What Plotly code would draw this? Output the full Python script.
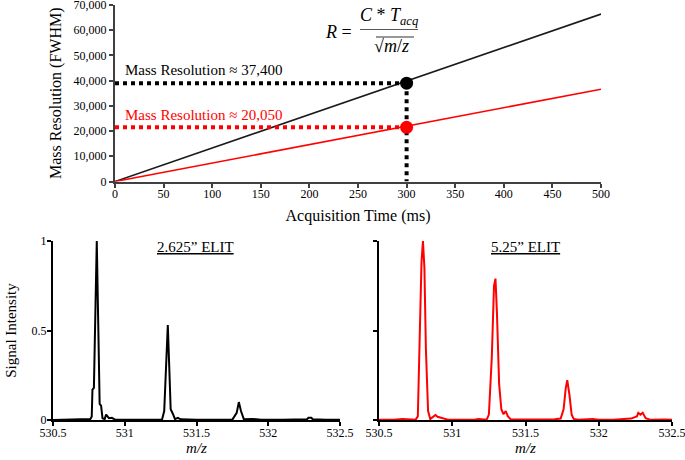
import plotly.graph_objects as go

# ---------------- data ----------------
acq_time = [0, 500]
res_black = [0, 66400]
res_red = [0, 36600]
sel_time = 300
sel_black = 39000
sel_red = 21500
label_black = "Mass Resolution ≈ 37,400"
label_red = "Mass Resolution ≈ 20,050"

top_xticks = [0, 50, 100, 150, 200, 250, 300, 350, 400, 450, 500]
top_yticks = [0, 10000, 20000, 30000, 40000, 50000, 60000, 70000]

mz_ticks = [530.5, 531, 531.5, 532, 532.5]
mz_ticktext = ["530.5", "531", "531.5", "532", "532.5"]
int_ticks = [0, 0.5, 1]
int_ticktext = ["0", "0.5", "1"]

mz_black = [530.50, 530.60, 530.70, 530.76, 530.77, 530.775, 530.785, 530.795, 530.805,
            530.815, 530.825, 530.835, 530.845, 530.86, 530.87, 530.88, 530.89, 530.91,
            530.93, 531.00, 531.10, 531.20, 531.26, 531.275, 531.29, 531.30, 531.31,
            531.32, 531.335, 531.35, 531.37, 531.39, 531.50, 531.60, 531.75, 531.78,
            531.795, 531.81, 531.83, 531.89, 531.95, 532.10, 532.20, 532.27, 532.28,
            532.30, 532.31, 532.40, 532.50]
int_black = [0.000, 0.002, 0.000, 0.005, 0.020, 0.170, 0.180, 0.600, 1.000,
             0.550, 0.090, 0.080, 0.010, 0.005, 0.030, 0.020, 0.010, 0.012,
             0.003, 0.002, 0.002, 0.001, 0.003, 0.050, 0.300, 0.530, 0.300,
             0.060, 0.035, 0.005, 0.012, 0.004, 0.002, 0.001, 0.002, 0.040,
             0.100, 0.050, 0.004, 0.006, 0.001, 0.002, 0.001, 0.004, 0.012,
             0.012, 0.004, 0.001, 0.002]

mz_red = [530.50, 530.60, 530.66, 530.69, 530.71, 530.75, 530.765, 530.78, 530.79,
          530.80, 530.81, 530.82, 530.835, 530.85, 530.87, 530.885, 530.90, 530.93,
          530.95, 530.97, 531.05, 531.15, 531.18, 531.21, 531.235, 531.25, 531.27,
          531.285, 531.295, 531.305, 531.32, 531.335, 531.35, 531.365, 531.38, 531.40,
          531.50, 531.60, 531.70, 531.74, 531.76, 531.775, 531.785, 531.80, 531.815,
          531.83, 531.86, 531.96, 532.00, 532.10, 532.22, 532.26, 532.27, 532.285,
          532.30, 532.32, 532.35, 532.45, 532.50]
int_red = [0.002, 0.001, 0.005, 0.004, 0.001, 0.002, 0.020, 0.450, 0.880,
           1.000, 0.850, 0.400, 0.050, 0.005, 0.020, 0.028, 0.018, 0.012,
           0.008, 0.002, 0.002, 0.001, 0.006, 0.003, 0.002, 0.030, 0.350,
           0.750, 0.790, 0.600, 0.200, 0.060, 0.032, 0.050, 0.020, 0.003,
           0.002, 0.001, 0.004, 0.008, 0.060, 0.180, 0.223, 0.140, 0.030,
           0.005, 0.002, 0.006, 0.001, 0.002, 0.008, 0.020, 0.040, 0.030,
           0.040, 0.010, 0.002, 0.003, 0.001]

# ---------------- figure ----------------
W, H = 685, 460
FONT = "Liberation Serif"

def px_x(p):
    return p / W

def px_y(p):
    return 1 - p / H

fig = go.Figure()

# top panel lines
fig.add_trace(go.Scatter(x=acq_time, y=res_black, mode="lines",
                         line=dict(color="#1a1a1a", width=1.6), xaxis="x", yaxis="y",
                         showlegend=False, hoverinfo="skip"))
fig.add_trace(go.Scatter(x=acq_time, y=res_red, mode="lines",
                         line=dict(color="#ff0000", width=1.6), xaxis="x", yaxis="y",
                         showlegend=False, hoverinfo="skip"))
# dotted guides
fig.add_trace(go.Scatter(x=[0, sel_time], y=[sel_black, sel_black], mode="lines",
                         line=dict(color="black", width=4, dash="dot"),
                         xaxis="x", yaxis="y", showlegend=False, hoverinfo="skip"))
fig.add_trace(go.Scatter(x=[0, sel_time], y=[sel_red, sel_red], mode="lines",
                         line=dict(color="#ff0000", width=4, dash="dot"),
                         xaxis="x", yaxis="y", showlegend=False, hoverinfo="skip"))
fig.add_trace(go.Scatter(x=[sel_time, sel_time], y=[sel_black, 0], mode="lines",
                         line=dict(color="black", width=4, dash="dot"),
                         xaxis="x", yaxis="y", showlegend=False, hoverinfo="skip"))
fig.add_trace(go.Scatter(x=[sel_time], y=[sel_black], mode="markers",
                         marker=dict(color="black", size=13),
                         xaxis="x", yaxis="y", showlegend=False, hoverinfo="skip"))
fig.add_trace(go.Scatter(x=[sel_time], y=[sel_red], mode="markers",
                         marker=dict(color="#ff0000", size=13),
                         xaxis="x", yaxis="y", showlegend=False, hoverinfo="skip"))

# spectra
fig.add_trace(go.Scatter(x=mz_black, y=int_black, mode="lines",
                         line=dict(color="black", width=2),
                         xaxis="x2", yaxis="y2", showlegend=False, hoverinfo="skip"))
fig.add_trace(go.Scatter(x=mz_red, y=int_red, mode="lines",
                         line=dict(color="#ff0000", width=2),
                         xaxis="x3", yaxis="y3", showlegend=False, hoverinfo="skip"))

tickfont = dict(family=FONT, size=12, color="black")
titlefont = dict(family=FONT, size=16, color="black")
common = dict(ticks="outside", ticklen=4, tickwidth=1.5, showgrid=False, zeroline=False,
              automargin=False, ticklabeloverflow="allow", showline=True, linewidth=2)

fig.update_layout(
    width=W, height=H,
    margin=dict(l=0, r=0, t=0, b=0),
    paper_bgcolor="white", plot_bgcolor="white",
    font=dict(family=FONT, color="black"),
    xaxis=dict(domain=[px_x(115), px_x(601)], range=[0, 500], anchor="y",
               tickvals=top_xticks, tickcolor="#404040", linecolor="#404040",
               tickfont=tickfont, ticklabelstandoff=-4,
               title=dict(text="Acquisition Time (ms)", font=titlefont, standoff=10), **common),
    yaxis=dict(domain=[px_y(181.5), px_y(5)], range=[0, 70000], anchor="x",
               tickvals=top_yticks, tickformat=",d", tickcolor="#404040",
               linecolor="#404040", tickfont=tickfont,
               title=dict(text="Mass Resolution (FWHM)", font=titlefont, standoff=8), **common),
    xaxis2=dict(domain=[px_x(53), px_x(340)], range=[530.5, 532.5], anchor="y2",
                tickvals=mz_ticks, ticktext=mz_ticktext, tickcolor="black", linecolor="black",
                tickfont=tickfont, ticklabelstandoff=-3,
                title=dict(text="<i>m/z</i>", font=dict(family=FONT, size=15, color="black"),
                           standoff=1), **common),
    yaxis2=dict(domain=[px_y(420), px_y(241)], range=[0, 1], anchor="x2",
                tickvals=int_ticks, ticktext=int_ticktext, tickcolor="black", linecolor="black",
                tickfont=tickfont, ticklabelstandoff=-2,
                title=dict(text="Signal Intensity", font=dict(family=FONT, size=15, color="black"),
                           standoff=11), **common),
    xaxis3=dict(domain=[px_x(379), px_x(672)], range=[530.5, 532.5], anchor="y3",
                tickvals=mz_ticks, ticktext=mz_ticktext, tickcolor="black", linecolor="black",
                tickfont=tickfont, ticklabelstandoff=-3,
                title=dict(text="<i>m/z</i>", font=dict(family=FONT, size=15, color="black"),
                           standoff=1), **common),
    yaxis3=dict(domain=[px_y(420), px_y(241)], range=[0, 1], anchor="x3",
                tickvals=int_ticks, showticklabels=False, tickcolor="black",
                linecolor="black", **common),
)

ann = []
ann.append(dict(x=8, y=44300, xref="x", yref="y", text=label_black, showarrow=False,
                xanchor="left", yanchor="middle",
                font=dict(family=FONT, size=15, color="black")))
ann.append(dict(x=8, y=26400, xref="x", yref="y", text=label_red, showarrow=False,
                xanchor="left", yanchor="middle",
                font=dict(family=FONT, size=15, color="#ff0000")))
# panel titles
ann.append(dict(x=px_x(196), y=px_y(247), xref="paper", yref="paper",
                text="<u>2.625” ELIT</u>", showarrow=False, xanchor="center", yanchor="middle",
                font=dict(family=FONT, size=15, color="black")))
ann.append(dict(x=px_x(525), y=px_y(247), xref="paper", yref="paper",
                text="<u>5.25” ELIT</u>", showarrow=False, xanchor="center", yanchor="middle",
                font=dict(family=FONT, size=15, color="black")))
# formula
mathfont = dict(family=FONT, size=18, color="black")
ann.append(dict(x=px_x(354), y=px_y(32), xref="paper", yref="paper",
                text="<i>R</i> =", showarrow=False, xanchor="right", yanchor="middle",
                font=mathfont))
ann.append(dict(x=px_x(389), y=px_y(16), xref="paper", yref="paper",
                text="<i>C</i> * <i>T<sub>acq</sub></i>", showarrow=False,
                xanchor="center", yanchor="middle", font=mathfont))
ann.append(dict(x=px_x(391), y=px_y(46), xref="paper", yref="paper",
                text="√<i>m</i>/<i>z</i>", showarrow=False,
                xanchor="center", yanchor="middle", font=mathfont))
fig.update_layout(annotations=ann)

shapes = [
    dict(type="line", xref="paper", yref="paper", x0=px_x(360), x1=px_x(418),
         y0=px_y(29.5), y1=px_y(29.5), line=dict(color="#555555", width=1.2)),
    dict(type="line", xref="paper", yref="paper", x0=px_x(376), x1=px_x(414),
         y0=px_y(37), y1=px_y(37), line=dict(color="#333333", width=1.2)),
]
fig.update_layout(shapes=shapes)

fig.write_html("out.html", config={"displayModeBar": False},
               post_script="document.body.style.margin='0';document.body.style.overflow='hidden';")
